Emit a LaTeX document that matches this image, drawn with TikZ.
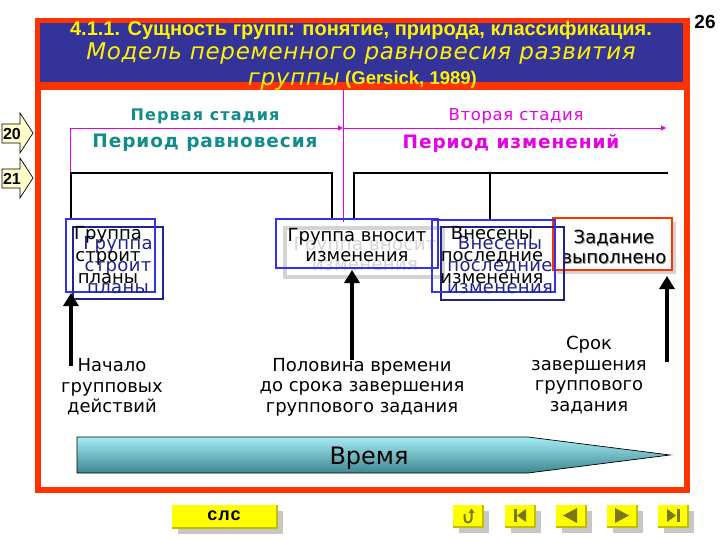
\documentclass[tikz,border=0pt]{standalone}
\usepackage{fontspec}
\setmainfont{DejaVu Sans}
\newfontfamily\arialb{Liberation Sans Bold}
\usetikzlibrary{arrows.meta}
\definecolor{slidered}{RGB}{255,51,0}
\definecolor{bandblue}{RGB}{51,51,153}
\definecolor{tealc}{RGB}{20,140,140}
\definecolor{magc}{RGB}{230,0,230}
\definecolor{boxblue}{RGB}{51,51,235}
\definecolor{navyc}{RGB}{34,34,140}
\definecolor{shadowgray}{RGB}{212,212,212}
\definecolor{paleyellow}{RGB}{255,255,204}
\definecolor{btnyellow}{RGB}{255,255,0}
\definecolor{btndark}{RGB}{190,190,0}
\definecolor{iconc}{RGB}{120,120,20}
\definecolor{timetop}{RGB}{165,235,245}
\definecolor{timebot}{RGB}{60,135,145}
\tikzset{
  ttl/.style={text=yellow, inner sep=0pt},
  bracket/.style={line width=2.6pt, line cap=rect},
  magline/.style={draw=magc, line width=0.8pt},
  frontbox/.style={draw=boxblue, line width=2.6pt},
  backbox/.style={draw=navyc, line width=2.6pt},
  boxtxt/.style={font=\fontsize{18}{22}\selectfont, align=center, inner sep=0pt},
  shadowtxt/.style={font=\fontsize{18}{22}\selectfont\addfontfeature{LetterSpace=2}, align=center, inner sep=0pt},
  lbl/.style={font=\fontsize{18}{20.5}\selectfont, align=center, inner sep=0pt},
  bigarrow/.style={line width=4.5pt, -{Triangle[length=13pt,width=15pt]}},
  numarrow/.style={fill=paleyellow, draw=black, line width=0.7pt},
  btn/.style={fill=btnyellow, draw=none},
  btnshadow/.style={fill=black!22, draw=none},
}
\begin{document}
\begin{tikzpicture}[x=1pt,y=-1pt]
\useasboundingbox (0,0) rectangle (720,540);
\fill[white] (0,0) rectangle (720,540);
% frame
\fill[slidered] (35,18) rectangle (690,493);
\fill[white] (41,90) rectangle (684,487);
\fill[bandblue] (40,23) rectangle (683,82);
% titles
\node[ttl, font=\arialb\fontsize{20}{22}\selectfont] (t1) at (361,30) {4.1.1. Сущность групп: понятие, природа, классификация.};
\node[ttl, font=\itshape\fontsize{23}{26}\selectfont\addfontfeature{LetterSpace=3}] (t2) at (361,54) {Модель переменного равновесия развития};
\node[ttl, font=\itshape\fontsize{23}{26}\selectfont\addfontfeature{LetterSpace=3}, anchor=base east] (t3a) at (340,86) {группы};
\node[ttl, font=\arialb\fontsize{18.5}{20}\selectfont, anchor=base west] (t3b) at (345,85) {(Gersick, 1989)};
\node[font=\arialb\fontsize{19}{20}\selectfont, inner sep=0pt] (pg) at (705,22) {26};
% slide number arrows
\draw[numarrow] (2,124) -- (20,124) -- (20,113) -- (33,133) -- (20,153) -- (20,143) -- (2,143) -- cycle;
\node[font=\arialb\fontsize{16}{16}\selectfont, inner sep=0pt] (n20) at (12,134) {20};
\draw[numarrow] (2,169) -- (20,169) -- (20,158) -- (33,178) -- (20,198) -- (20,188) -- (2,188) -- cycle;
\node[font=\arialb\fontsize{16}{16}\selectfont, inner sep=0pt] (n21) at (12,179) {21};
% stage labels
\node[text=tealc, font=\bfseries\fontsize{16}{18}\selectfont\addfontfeature{LetterSpace=7}, inner sep=0pt] (st1) at (205,116) {Первая стадия};
\node[text=tealc, font=\bfseries\fontsize{18.5}{20}\selectfont\addfontfeature{LetterSpace=5}, inner sep=0pt] (per1) at (205,143) {Период равновесия};
\node[text=magc, font=\fontsize{16.5}{18}\selectfont\addfontfeature{LetterSpace=4}, inner sep=0pt] (st2) at (516,116) {Вторая стадия};
\node[text=magc, font=\bfseries\fontsize{18.5}{20}\selectfont\addfontfeature{LetterSpace=5}, inner sep=0pt] (per2) at (511,143) {Период изменений};
% magenta lines
\coordinate (mL) at (70,128);
\coordinate (mM) at (343,128);
\coordinate (mR) at (666,128);
\draw[magline] (343,90) -- (343,222);
\draw[magline] (70,173) -- (mL);
\draw[magline, -{Triangle[length=5pt,width=5pt]}] (mL) -- (mM);
\draw[magline, -{Triangle[length=5pt,width=5pt]}] (mM) -- (mR);
% black brackets
\draw[bracket] (71,219) -- (71,173) -- (332,173) -- (332,219);
\draw[bracket] (354,219) -- (354,173) -- (667,173);
\draw[bracket] (490,173) -- (490,219);
% box 4 (under box 3)
\fill[shadowgray] (557,222) rectangle (676,274);
\fill[white] (555,219) rectangle (671,269);
\draw[draw=slidered, line width=2.6pt] (553,218) rectangle (672,270);
\node[boxtxt, font=\fontsize{18}{20}\selectfont, text=black!40] (b4s) at (614.8,248) {Задание\\выполнено};
\node[boxtxt, font=\fontsize{18}{20}\selectfont] (b4) at (614,247.2) {Задание\\выполнено};
% box 1
\draw[backbox] (73,227) rectangle (163,299);
\draw[frontbox] (66,219) rectangle (155,292);
\node[shadowtxt, text=navyc] (b1s) at (118,265) {Группа\\строит\\планы};
\node[boxtxt] (b1) at (108,255) {Группа\\строит\\планы};
% box 2
\fill[shadowgray] (283,226) rectangle (445,279);
\fill[white] (287,230) rectangle (441,275);
\node[shadowtxt, font=\fontsize{18}{20}\selectfont\addfontfeature{LetterSpace=2}, text=shadowgray] (b2s) at (365,254) {Группа вносит\\изменения};
\draw[frontbox] (276,219) rectangle (438,268);
\node[boxtxt, font=\fontsize{18}{20}\selectfont] (b2) at (357,245) {Группа вносит\\изменения};
% box 3
\draw[backbox] (441,227) rectangle (564,300);
\draw[frontbox] (432,220) rectangle (555,292);
\node[shadowtxt, text=navyc] (b3s) at (500,265) {Внесены\\последние\\изменения};
\node[boxtxt] (b3) at (492,255) {Внесены\\последние\\изменения};
% thick arrows
\coordinate (a1) at (71,366);
\coordinate (a2) at (352,360);
\coordinate (a3) at (667,362);
\coordinate (a1t) at (71,293);
\coordinate (a2t) at (352,270);
\coordinate (a3t) at (667,276);
\draw[bigarrow] (a1) -- (a1t);
\draw[bigarrow] (a2) -- (a2t);
\draw[bigarrow] (a3) -- (a3t);
% labels
\node[lbl] (l1) at (112,387) {Начало\\групповых\\действий};
\node[lbl] (l2) at (362,387) {Половина времени\\до срока завершения\\группового задания};
\node[lbl] (l3) at (589,375) {Срок\\завершения\\группового\\задания};
% time arrow
\shade[top color=timetop, bottom color=timebot, draw=black, line width=0.7pt]
  (77,437) -- (528,437) -- (670,455) -- (528,473) -- (77,473) -- cycle;
\node[font=\fontsize{24}{26}\selectfont, inner sep=0pt] (time) at (369,458) {Время};
% bottom buttons
\fill[btnshadow] (178,511) rectangle (283,534);
\fill[btn] (172,505) rectangle (277,528);
\draw[btndark, line width=1.5pt] (277,505) -- (277,528) -- (172,528);
\node[font=\arialb\fontsize{18}{18}\selectfont\addfontfeature{LetterSpace=6}, inner sep=0pt] (sls) at (224,516) {слс};
\foreach \cx in {468,520,571,622,673}{
  \fill[btnshadow] (\cx-15+6,511) rectangle (\cx+15+6,533);
  \fill[btn] (\cx-15,505) rectangle (\cx+15,527);
  \draw[btndark, line width=1.5pt] (\cx+15,505) -- (\cx+15,527) -- (\cx-15,527);
}
% icons
\draw[iconc, line width=2pt] (464.5,514) -- (464.5,519) arc (180:0:3.5) -- (471.5,512);
\fill[iconc] (468.5,513) -- (471.5,508.5) -- (474.5,513) -- cycle;
\fill[iconc] (514,509) rectangle (516.5,522);
\fill[iconc] (517,515.5) -- (526,509) -- (526,522) -- cycle;
\fill[iconc] (563,515.5) -- (577,508) -- (577,523) -- cycle;
\fill[iconc] (615,508) -- (629,515.5) -- (615,523) -- cycle;
\fill[iconc] (667,509) -- (676,515.5) -- (667,522) -- cycle;
\fill[iconc] (677,509) rectangle (679.5,522);
\end{tikzpicture}
\end{document}
